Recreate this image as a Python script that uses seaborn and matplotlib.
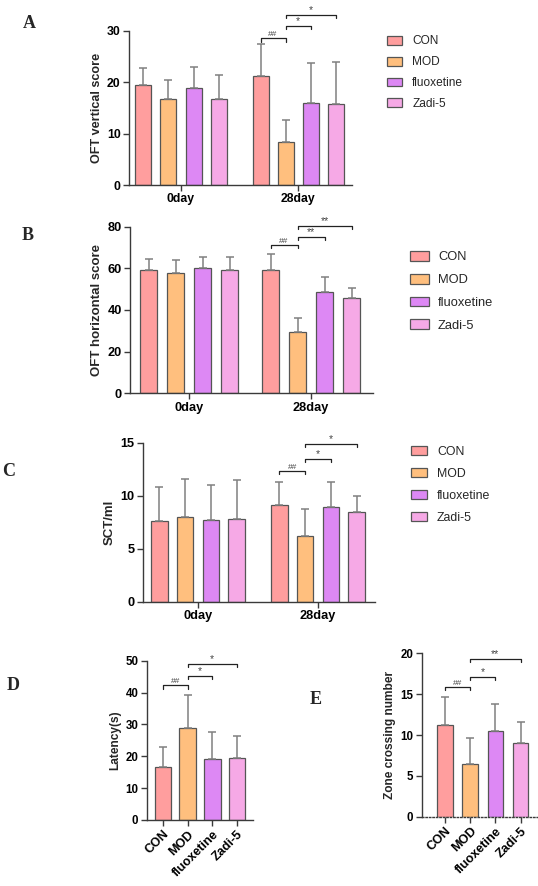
import numpy as np
import pandas as pd
import matplotlib
matplotlib.use("Agg")
import matplotlib.pyplot as plt
from matplotlib.container import BarContainer
import seaborn as sns

# groups and colours
groups = ["CON", "MOD", "fluoxetine", "Zadi-5"]
days = ["0day", "28day"]
colors = ["#FF9E9E", "#FFBF7E", "#DD88F4", "#F6A9E6"]

# A: OFT vertical score (mean, sd)
oft_v_0day = [19.4, 16.7, 18.8, 16.7]
oft_v_0day_sd = [3.3, 3.8, 4.1, 4.6]
oft_v_28day = [21.1, 8.4, 16.0, 15.8]
oft_v_28day_sd = [6.3, 4.3, 7.7, 8.2]

# B: OFT horizontal score
oft_h_0day = [59.2, 57.6, 60.3, 59.2]
oft_h_0day_sd = [5.1, 6.4, 5.3, 6.1]
oft_h_28day = [59.2, 29.6, 48.5, 45.9]
oft_h_28day_sd = [7.6, 6.7, 7.2, 4.5]

# C: SCT/ml
sct_0day = [7.66, 7.97, 7.69, 7.78]
sct_0day_sd = [3.14, 3.63, 3.36, 3.67]
sct_28day = [9.10, 6.18, 8.91, 8.50]
sct_28day_sd = [2.23, 2.61, 2.35, 1.50]

# D: latency
latency = [16.7, 29.0, 19.3, 19.6]
latency_sd = [6.3, 10.3, 8.4, 6.8]

# E: zone crossing number
zone = [11.2, 6.45, 10.45, 8.98]
zone_sd = [3.5, 3.15, 3.31, 2.65]

# significance brackets: (group a, group b, label, height)
sig_a = [(0, 1, "##", 28.5), (1, 2, "*", 30.9), (1, 3, "*", 33.05)]
sig_b = [(0, 1, "##", 71.2), (1, 2, "**", 75.0), (1, 3, "**", 80.3)]
sig_c = [(0, 1, "##", 12.33), (1, 2, "*", 13.46), (1, 3, "*", 14.87)]
sig_d = [(0, 1, "##", 42.3), (1, 2, "*", 45.2), (1, 3, "*", 49.0)]
sig_e = [(0, 1, "##", 15.9), (1, 2, "*", 17.1), (1, 3, "**", 19.3)]

sns.set_style("ticks")
plt.rcParams['font.family'] = ['Liberation Sans', 'DejaVu Sans']
plt.rcParams['font.weight'] = 'bold'
plt.rcParams['axes.labelweight'] = 'bold'
plt.rcParams['axes.edgecolor'] = '#3a3a3a'
plt.rcParams['axes.linewidth'] = 1.0
plt.rcParams['xtick.color'] = '#3a3a3a'
plt.rcParams['ytick.color'] = '#3a3a3a'
plt.rcParams['xtick.labelcolor'] = 'black'
plt.rcParams['ytick.labelcolor'] = 'black'

W, H = 538, 886
fig = plt.figure(figsize=(W / 100, H / 100), dpi=100)


def px_axes(l, t, r, b):
    return fig.add_axes([l / W, 1 - b / H, (r - l) / W, (b - t) / H])


def style_axis(ax, ymax, yticks, ylabel, fs):
    ax.set_ylim(0, ymax)
    ax.set_yticks(yticks)
    ax.set_ylabel(ylabel, fontsize=fs + 0.3, labelpad=3)
    ax.set_xlabel("")
    ax.tick_params(axis='both', length=4, width=1, labelsize=fs, pad=2)
    sns.despine(ax=ax)


def add_errors(ax, x, y, sd):
    ax.errorbar(x, y, yerr=[[0], [sd]], fmt='none', ecolor='#808080',
                elinewidth=1.1, capsize=3.2, capthick=1.1, zorder=1)


def bracket(ax, x1, x2, y, label, drop_px=3.3):
    y0, y1 = ax.get_ylim()
    h_px = ax.get_window_extent().height
    d = drop_px * (y1 - y0) / h_px
    ax.plot([x1, x1, x2, x2], [y - d, y, y, y - d], color='#222222', lw=0.9,
            clip_on=False, zorder=5)
    fs = 6 if label.startswith("#") else 7.5
    ax.text((x1 + x2) / 2, y, label, ha='center', va='bottom', fontsize=fs,
            color='#444444', fontweight='normal', clip_on=False)


def bar_containers(ax):
    return [c for c in ax.containers if isinstance(c, BarContainer)]


def grouped_panel(ax, v0, s0, v28, s28, width, gap, xlim, ymax, yticks,
                  ylabel, fs, sig, leg_xy, leg_fs, leg):
    df = pd.DataFrame({"day": np.repeat(days, len(groups)),
                       "group": groups * 2,
                       "value": v0 + v28,
                       "sd": s0 + s28})
    sns.barplot(data=df, x="day", y="value", hue="group", hue_order=groups,
                palette=colors, saturation=1, width=width, gap=gap,
                errorbar=None, edgecolor='#555555', linewidth=0.9, ax=ax)
    centers = {}
    for i, cont in enumerate(bar_containers(ax)):
        for bar in cont.patches:
            xc = bar.get_x() + bar.get_width() / 2
            d = int(round(xc))
            row = df[(df.day == days[d]) & (df.group == groups[i])].iloc[0]
            add_errors(ax, xc, row.value, row.sd)
            centers[(d, i)] = xc
    ax.set_xlim(*xlim)
    style_axis(ax, ymax, yticks, ylabel, fs)
    for a, b, lab, y in sig:
        bracket(ax, centers[(1, a)], centers[(1, b)], y, lab)
    handles, labels = ax.get_legend_handles_labels()
    ax.legend(handles, labels, loc='upper left',
              bbox_to_anchor=(leg_xy[0] / W, 1 - leg_xy[1] / H),
              bbox_transform=fig.transFigure, frameon=False, borderpad=0,
              borderaxespad=0, handlelength=leg[0], handleheight=leg[1],
              labelspacing=leg[2], handletextpad=leg[3],
              prop={'size': leg_fs, 'weight': 'normal'})


def single_panel(ax, vals, sds, width, xlim, ymax, yticks, ylabel, fs, sig):
    df = pd.DataFrame({"group": groups, "value": vals, "sd": sds})
    sns.barplot(data=df, x="group", y="value", hue="group", palette=colors,
                saturation=1, width=width, errorbar=None, legend=False,
                edgecolor='#555555', linewidth=0.9, ax=ax)
    centers = {}
    for cont in bar_containers(ax):
        for bar in cont.patches:
            xc = bar.get_x() + bar.get_width() / 2
            k = int(round(xc))
            add_errors(ax, xc, df.value[k], df.sd[k])
            centers[k] = xc
    ax.set_xlim(*xlim)
    style_axis(ax, ymax, yticks, ylabel, fs)
    ax.set_xticks(range(len(groups)))
    ax.set_xticklabels(groups, rotation=45, ha='right', rotation_mode='anchor',
                       fontsize=fs + 0.8)
    for a, b, lab, y in sig:
        bracket(ax, centers[a], centers[b], y, lab)


# A
axA = px_axes(129, 30.7, 352, 185)
grouped_panel(axA, oft_v_0day, oft_v_0day_sd, oft_v_28day, oft_v_28day_sd,
              0.855, 0.36, (-0.444, 1.46), 30, [0, 10, 20, 30],
              "OFT vertical score", 8.8, sig_a, (387, 35.5), 8.6,
              (1.27, 0.76, 0.74, 0.85))

# B
axB = px_axes(130, 226.7, 373, 393.3)
grouped_panel(axB, oft_h_0day, oft_h_0day_sd, oft_h_28day, oft_h_28day_sd,
              0.885, 0.37, (-0.484, 1.508), 80, [0, 20, 40, 60, 80],
              "OFT horizontal score", 9.2, sig_b, (410, 251), 9.3,
              (1.44, 0.8, 0.8, 0.72))

# C
axC = px_axes(142.7, 442.7, 375, 602)
grouped_panel(axC, sct_0day, sct_0day_sd, sct_28day, sct_28day_sd,
              0.86, 0.36, (-0.461, 1.475), 15, [0, 5, 10, 15],
              "SCT/ml", 9.2, sig_c, (410.7, 445.5), 8.9,
              (1.32, 0.8, 0.82, 0.8))

# D
axD = px_axes(146.7, 660.7, 253, 820)
single_panel(axD, latency, latency_sd, 0.67, (-0.66, 3.65), 50,
             [0, 10, 20, 30, 40, 50], "Latency(s)", 8.3, sig_d)

# E
axE = px_axes(421.7, 653.3, 537, 816.7)
single_panel(axE, zone, zone_sd, 0.62, (-0.92, 3.65), 20,
             [0, 5, 10, 15, 20], "Zone crossing number", 8.3, sig_e)
axE.spines['bottom'].set_linestyle((0, (1, 1.5)))

# panel letters
for letter, (x, y) in zip("ABCDE", [(29, 23), (27.5, 235), (8.5, 471),
                                     (13.5, 686), (316, 700)]):
    fig.text(x / W, 1 - y / H, letter, ha='center', va='center', fontsize=13,
             fontweight='bold', family=['Liberation Serif', 'DejaVu Serif'])

plt.savefig("out.png", dpi=100)
plt.close()
